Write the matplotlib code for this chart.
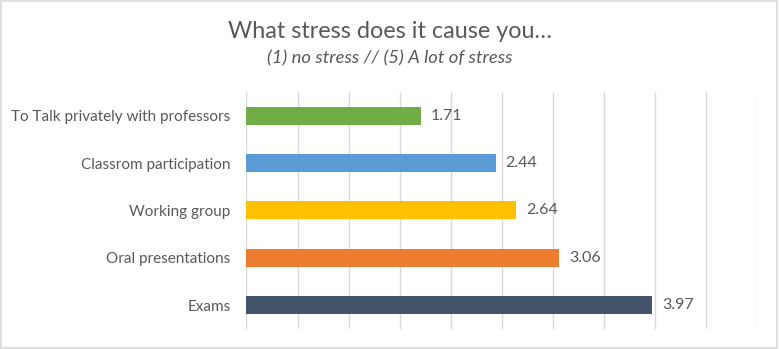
import numpy as np
import matplotlib
matplotlib.use("Agg")
import matplotlib.pyplot as plt
from matplotlib.patches import Rectangle

categories = ["Exams", "Oral presentations", "Working group",
              "Classrom participation", "To Talk privately with professors"]
scores = [3.97, 3.06, 2.64, 2.44, 1.71]
bar_colors = ["#44546A", "#ED7D31", "#FFC000", "#5B9BD5", "#70AD47"]
grid_ticks = np.arange(0, 5.01, 0.5)

plt.rcParams['font.family'] = ['Lato', 'DejaVu Sans']
text_gray = "#595959"

fig = plt.figure(figsize=(7.79, 3.49), dpi=100)
fig.patches.append(Rectangle((0.001, 0.002), 0.997, 0.995, transform=fig.transFigure,
                             fill=False, edgecolor="#D9D9D9", linewidth=1.2))

ax = fig.add_axes([0.3164, 0.0582, 0.6558, 0.6782])
y = np.arange(len(categories))
ax.barh(y, scores, height=0.375, color=bar_colors, zorder=3)

for yi, v in zip(y, scores):
    ax.text(v + 0.095, yi, f"{v:.2f}", va="center", ha="left",
            fontsize=11.5, color=text_gray)

ax.set_xlim(0, 5)
ax.set_ylim(-0.5, len(categories) - 0.5)
ax.set_xticks(grid_ticks)
ax.set_xticklabels([])
ax.tick_params(axis="x", length=0)
ax.set_yticks(y)
ax.set_yticklabels(categories, fontsize=11, color=text_gray)
ax.tick_params(axis="y", length=0, pad=11.5)
ax.grid(axis="x", color="#D9D9D9", linewidth=1, zorder=0)
for s in ax.spines.values():
    s.set_visible(False)

fig.text(0.5, 1 - 31 / 349, "What stress does it cause you…", ha="center", va="center",
         fontsize=16.8, color=text_gray)
fig.text(0.5, 1 - 58 / 349, "(1) no stress // (5) A lot of stress", ha="center", va="center",
         fontsize=13.3, style="italic", color=text_gray)

fig.savefig("out.png", dpi=100)
